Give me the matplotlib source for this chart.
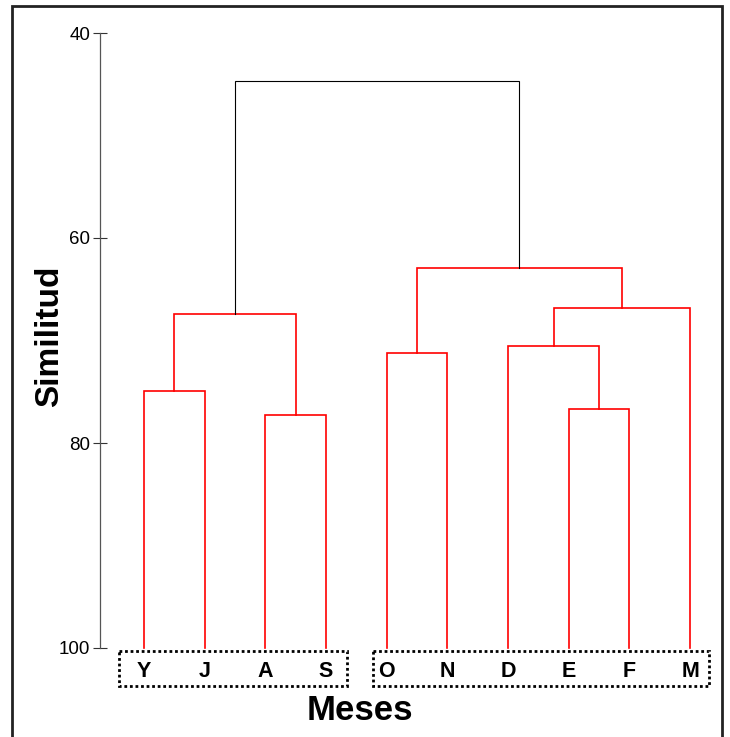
import matplotlib
matplotlib.use('Agg')
import matplotlib.pyplot as plt
from matplotlib.patches import Rectangle

# Leaves (left to right) and merges: (left node, right node, similitud)
leaves = ['Y', 'J', 'A', 'S', 'O', 'N', 'D', 'E', 'F', 'M']
merges = [
    ('Y', 'J', 74.9),
    ('A', 'S', 77.3),
    ('E', 'F', 76.7),
    ('O', 'N', 71.2),
    ('D', 'EF', 70.5),
    ('DEF', 'M', 66.8),
    ('YJ', 'AS', 67.4),
    ('ON', 'DEFM', 62.9),
    ('YJAS', 'ONDEFM', 44.7),
]
yticks = [40, 60, 80, 100]

plt.rcParams['font.family'] = ['Liberation Sans', 'DejaVu Sans']

fig = plt.figure(figsize=(7.3, 7.37), dpi=100)
ax = fig.add_axes([100/730, 1 - 648/737, 620.4/730, (648 - 33)/737])

pos = {name: i for i, name in enumerate(leaves)}
height = {name: 100 for name in leaves}
for a, b, h in merges:
    col = 'black' if h < 50 else 'red'
    lw = 0.8 if col == 'black' else 1.2
    xa, xb = pos[a], pos[b]
    ax.plot([xa, xa, xb, xb], [height[a], h, h, height[b]], color=col, lw=lw,
            solid_joinstyle='miter', clip_on=False)
    pos[a + b] = (xa + xb) / 2
    height[a + b] = h

ax.set_xlim(-0.725, 9.5)
ax.set_ylim(100, 40)
ax.set_yticks(yticks)
ax.set_yticklabels([str(t) for t in yticks], fontsize=13.5)
ax.tick_params(axis='y', direction='inout', length=10, width=0.8, pad=2, colors='#333333')
ax.tick_params(axis='y', labelcolor='black')
ax.set_xticks([])
for s in ['top', 'right', 'bottom']:
    ax.spines[s].set_visible(False)
ax.spines['left'].set_color('#555555')
ax.spines['left'].set_linewidth(0.9)

# leaf labels inside dotted boxes
for i, name in enumerate(leaves):
    ax.text(i, 102.3, name, ha='center', va='center', fontsize=15.5,
            fontweight='bold', clip_on=False)
for x0, x1 in [(-0.41, 3.35), (3.77, 9.31)]:
    ax.add_patch(Rectangle((x0, 100.29), x1 - x0, 3.45, fill=False, ls=(0, (1, 1)),
                           lw=2, ec='black', clip_on=False))

fig.text(360/730, 1 - 710/737, 'Meses', ha='center', va='center', fontsize=25,
         fontweight='bold')
fig.text(50/730, 1 - 336/737, 'Similitud', ha='center', va='center', fontsize=24,
         fontweight='bold', rotation=90)

# outer frame
fig.add_artist(Rectangle((12/730, -0.02), 710/730, 1.02 - 6/737, fill=False,
                         lw=2, ec='#222222', transform=fig.transFigure))

fig.savefig('out.png', dpi=100)
